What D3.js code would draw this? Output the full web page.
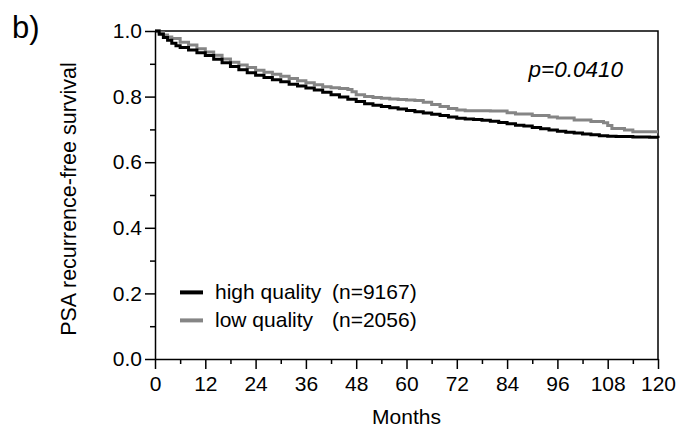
<!DOCTYPE html>
<html>
<head>
<meta charset="utf-8">
<script src="https://cdn.jsdelivr.net/npm/d3@7"></script>
<style>
  body { margin: 0; background: #fff; }
  text { font-family: "Liberation Sans", Arial, sans-serif; fill: #000; }
</style>
</head>
<body>
<div id="km_chart"></div>
<script>
// Kaplan-Meier estimates (months, survival)
const highMonths = [0, 1, 2, 3, 4, 5, 6, 8, 10, 12, 14, 16, 18, 20, 22, 24, 26, 28, 30, 32, 34, 36, 38, 40, 42, 44, 46, 48, 50, 52, 54, 56, 58, 60, 62, 64, 66, 68, 70, 72, 74, 76, 78, 80, 82, 84, 86, 88, 90, 92, 94, 96, 98, 100, 102, 104, 106, 108, 110, 114, 118, 120];
const highSurv = [1.0, 0.99, 0.98, 0.972, 0.963, 0.955, 0.95, 0.942, 0.934, 0.925, 0.914, 0.903, 0.892, 0.882, 0.873, 0.865, 0.858, 0.851, 0.845, 0.838, 0.832, 0.826, 0.82, 0.813, 0.806, 0.799, 0.792, 0.785, 0.778, 0.774, 0.77, 0.766, 0.762, 0.758, 0.754, 0.75, 0.746, 0.742, 0.738, 0.734, 0.732, 0.73, 0.728, 0.725, 0.721, 0.717, 0.713, 0.71, 0.706, 0.702, 0.698, 0.694, 0.691, 0.689, 0.686, 0.684, 0.681, 0.679, 0.678, 0.677, 0.676, 0.674];

const lowMonths = [0, 1, 2, 3, 4, 6, 8, 10, 12, 14, 16, 18, 20, 22, 24, 26, 28, 30, 32, 34, 36, 38, 40, 42, 44, 46, 47, 48, 50, 52, 54, 56, 58, 60, 62, 64, 66, 68, 70, 72, 74, 80, 84, 86, 90, 94, 96, 100, 104, 107, 108, 109, 112, 114, 120];
const lowSurv = [1.0, 0.995, 0.988, 0.982, 0.977, 0.966, 0.957, 0.946, 0.936, 0.926, 0.915, 0.905, 0.896, 0.889, 0.88, 0.874, 0.868, 0.862, 0.855, 0.848, 0.842, 0.836, 0.83, 0.827, 0.825, 0.822, 0.815, 0.806, 0.8, 0.797, 0.795, 0.793, 0.791, 0.79, 0.788, 0.783, 0.776, 0.77, 0.764, 0.759, 0.757, 0.756, 0.751, 0.747, 0.742, 0.738, 0.735, 0.729, 0.724, 0.72, 0.712, 0.703, 0.698, 0.693, 0.693];

const xTicks = [0, 12, 24, 36, 48, 60, 72, 84, 96, 108, 120];
const xMinor = [6, 18, 30, 42, 54, 66, 78, 90, 102, 114];
const yTicks = [0, 0.2, 0.4, 0.6, 0.8, 1.0];
const yMinor = [0.1, 0.3, 0.5, 0.7, 0.9];

const legendNames = ["high quality", "low quality"];
const legendN = ["(n=9167)", "(n=2056)"];
const colors = ["#000000", "#858585"];

const margin = {top: 31, right: 20, bottom: 68, left: 155};
const width = 678 - margin.left - margin.right;
const height = 427 - margin.top - margin.bottom;

const root = d3.select("#km_chart")
    .append("svg")
    .attr("width", 678)
    .attr("height", 427);

const svg = root.append("g")
    .attr("transform", `translate(${margin.left},${margin.top})`);

const x = d3.scaleLinear().domain([0, 120]).range([0, width]);
const y = d3.scaleLinear().domain([0, 1]).range([height, 0]);

// frame (top and right)
svg.append("path")
    .attr("d", `M0,0H${width}V${height}`)
    .attr("fill", "none")
    .attr("stroke", "#000")
    .attr("stroke-width", 1.5);

// curves
const line = d3.line()
    .x(d => x(d[0]))
    .y(d => y(d[1]))
    .curve(d3.curveStepAfter);

const series = [
    d3.zip(lowMonths, lowSurv),
    d3.zip(highMonths, highSurv)
];
const seriesColors = [colors[1], colors[0]];

svg.selectAll("path.km")
    .data(series)
    .join("path")
    .attr("class", "km")
    .attr("d", line)
    .attr("fill", "none")
    .attr("stroke", (d, i) => seriesColors[i])
    .attr("stroke-width", 3);

// X axis
svg.append("g")
    .attr("transform", `translate(0,${height})`)
    .call(d3.axisBottom(x).tickValues(xTicks).tickSize(10).tickPadding(7).tickSizeOuter(0));
svg.append("g")
    .attr("transform", `translate(0,${height})`)
    .call(d3.axisBottom(x).tickValues(xMinor).tickSize(5).tickFormat("").tickSizeOuter(0))
    .select(".domain").remove();

// Y axis
svg.append("g")
    .call(d3.axisLeft(y).tickValues(yTicks).tickSize(10).tickPadding(3).tickFormat(d3.format(".1f")).tickSizeOuter(0));
svg.append("g")
    .call(d3.axisLeft(y).tickValues(yMinor).tickSize(5).tickFormat("").tickSizeOuter(0))
    .select(".domain").remove();

svg.selectAll(".domain, .tick line")
    .attr("stroke", "#000")
    .attr("stroke-width", 1.5);
svg.selectAll(".tick text")
    .style("font-size", "21px")
    .attr("fill", "#000");

// axis titles
svg.append("text")
    .attr("x", width / 2)
    .attr("y", height + 65)
    .attr("text-anchor", "middle")
    .style("font-size", "21px")
    .text("Months");

svg.append("text")
    .attr("transform", `translate(-79,${height / 2 + 4}) rotate(-90)`)
    .attr("text-anchor", "middle")
    .style("font-size", "21.5px")
    .text("PSA recurrence-free survival");

// panel letter
root.append("text")
    .attr("x", 12)
    .attr("y", 38)
    .style("font-size", "31px")
    .text("b)");

// p value
svg.append("text")
    .attr("x", width - 35)
    .attr("y", 46)
    .attr("text-anchor", "end")
    .style("font-size", "22.5px")
    .style("font-style", "italic")
    .text("p=0.0410");

// legend
const legend = svg.selectAll("g.legend")
    .data(legendNames)
    .join("g")
    .attr("class", "legend")
    .attr("transform", (d, i) => `translate(0,${y(0.2) - 1 + i * 28})`);

legend.append("line")
    .attr("x1", 25).attr("x2", 48)
    .attr("stroke", (d, i) => colors[i])
    .attr("stroke-width", 4);
legend.append("text")
    .attr("x", 60)
    .attr("y", 7)
    .style("font-size", "21px")
    .text(d => d);
legend.append("text")
    .attr("x", 177)
    .attr("y", 7)
    .style("font-size", "21px")
    .text((d, i) => legendN[i]);
</script>
</body>
</html>
